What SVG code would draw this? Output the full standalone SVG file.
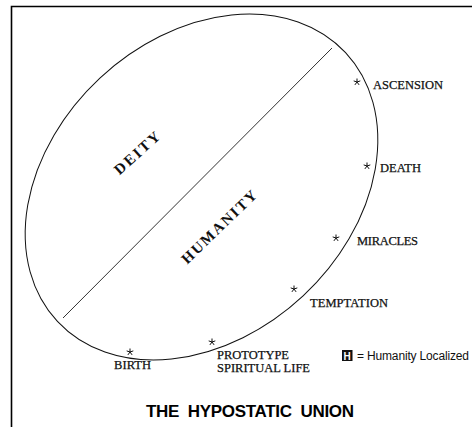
<svg xmlns="http://www.w3.org/2000/svg" width="472" height="427" viewBox="0 0 472 427">
<style>
.lbl{font-family:"Liberation Serif",serif;font-size:12.5px;fill:#111;stroke:#111;stroke-width:0.25}
.big{font-family:"Liberation Serif",serif;font-size:15px;font-weight:bold;fill:#111}
.st{stroke:#111;stroke-width:1;fill:none}
</style>
<defs>
<g id="star">
<path class="st" d="M0,-3.5 L0,0 M0,0 L3.3,-1.1 M0,0 L-3.3,-1.1 M0,0 L2.1,2.9 M0,0 L-2.1,2.9"/>
</g>
</defs>
<rect width="472" height="427" fill="#fff"/>
<path d="M11.5,427 L11.5,6.5 L472,6.5" fill="none" stroke="#000" stroke-width="1.6"/>
<g id="connectors">
<ellipse cx="201.5" cy="187" rx="197" ry="149" transform="rotate(-43 201.5 187)" fill="none" stroke="#111" stroke-width="1"/>
<line x1="63" y1="318" x2="332" y2="48" stroke="#333" stroke-width="1"/>
</g>
<g id="deity"><text class="big" transform="translate(137,153) rotate(-42)" x="0" y="5" text-anchor="middle" textLength="56" lengthAdjust="spacing">DEITY</text></g>
<g id="humanity"><text class="big" transform="translate(219,227) rotate(-44)" x="0" y="5" text-anchor="middle" textLength="98" lengthAdjust="spacing">HUMANITY</text></g>
<g id="ascension"><use href="#star" x="357" y="82"/><text class="lbl" x="373" y="89" textLength="70">ASCENSION</text></g>
<g id="death"><use href="#star" x="367" y="166"/><text class="lbl" x="380" y="172" textLength="41">DEATH</text></g>
<g id="miracles"><use href="#star" x="336" y="238"/><text class="lbl" x="357" y="245" textLength="61">MIRACLES</text></g>
<g id="temptation"><use href="#star" x="294" y="289"/><text class="lbl" x="310" y="307" textLength="78">TEMPTATION</text></g>
<g id="prototype"><use href="#star" x="212" y="342"/><text class="lbl" x="217" y="359" textLength="72">PROTOTYPE</text><text class="lbl" x="217" y="372" textLength="93">SPIRITUAL LIFE</text></g>
<g id="birth"><use href="#star" x="130" y="352"/><text class="lbl" x="114" y="369" textLength="37">BIRTH</text></g>
<g id="legend">
<rect x="342" y="350" width="10.5" height="11" fill="#111"/>
<text x="347.2" y="359.5" text-anchor="middle" style="font-family:'Liberation Sans',sans-serif;font-size:10px;font-weight:bold;fill:#fff">H</text>
<text x="357" y="360" textLength="112" style="font-family:'Liberation Sans',sans-serif;font-size:12px;fill:#111">= Humanity Localized</text>
</g>
<g id="title"><text x="146" y="417" textLength="208" style="font-family:'Liberation Sans',sans-serif;font-size:17px;font-weight:bold;fill:#000;white-space:pre" xml:space="preserve">THE  HYPOSTATIC  UNION</text></g>
</svg>
